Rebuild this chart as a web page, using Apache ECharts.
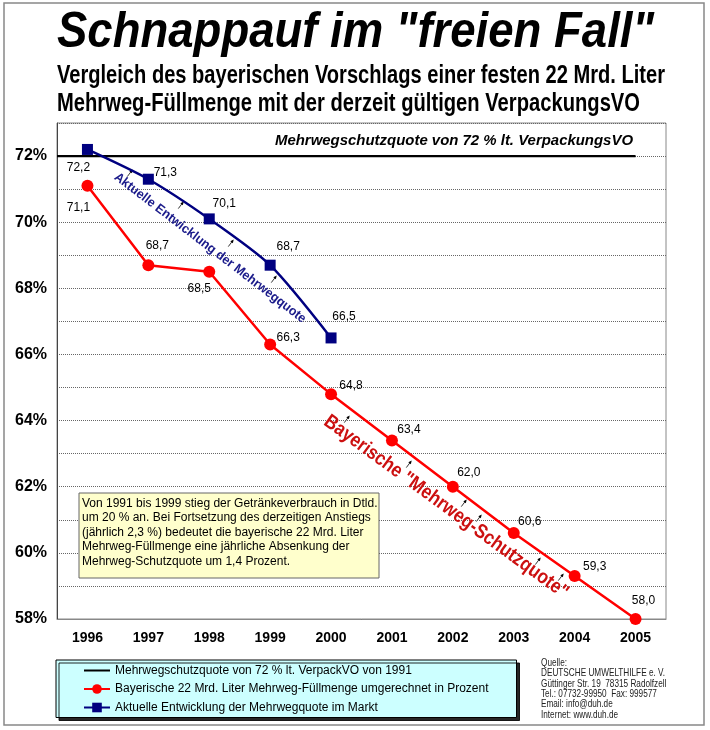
<!DOCTYPE html>
<html>
<head>
<meta charset="utf-8">
<script src="https://cdn.jsdelivr.net/npm/echarts@6/dist/echarts.min.js"></script>
<style>
html,body{margin:0;padding:0;background:#fff;}
#chart{width:710px;height:730px;}
</style>
</head>
<body>
<div id="chart"></div>
<script>
// ---------- data ----------
const years = ['1996','1997','1998','1999','2000','2001','2002','2003','2004','2005'];
const bavarianQuota = [71.1, 68.7, 68.5, 66.3, 64.8, 63.4, 62.0, 60.6, 59.3, 58.0];
const actualQuota = [72.2, 71.3, 70.1, 68.7, 66.5, null, null, null, null, null];
const legalQuota = 72;
const legalLineX = [-0.5, 9];        // from the y axis to the 2005 category
const yMin = 58, yMax = 73, yStep = 1;

const titleText = 'Schnappauf im "freien Fall"';
const subtitleLines = [
  'Vergleich des bayerischen Vorschlags einer festen 22 Mrd. Liter',
  'Mehrweg-Füllmenge mit der derzeit gültigen VerpackungsVO'
];
const legalLabel = 'Mehrwegschutzquote von 72 % lt. VerpackungsVO';
const seriesNames = [
  'Mehrwegschutzquote von 72 % lt. VerpackVO von 1991',
  'Bayerische 22 Mrd. Liter Mehrweg-Füllmenge umgerechnet in Prozent',
  'Aktuelle Entwicklung der Mehrwegquote im Markt'
];
const actualCurveLabel = 'Aktuelle Entwicklung der Mehrwegquote';
const bavarianCurveLabel = 'Bayerische "Mehrweg-Schutzquote"';
const noteLines = [
  'Von 1991 bis 1999 stieg der Getränkeverbrauch in Dtld.',
  'um 20 % an. Bei Fortsetzung des derzeitigen Anstiegs',
  '(jährlich 2,3 %) bedeutet die bayerische 22 Mrd. Liter',
  'Mehrweg-Füllmenge eine jährliche Absenkung der',
  'Mehrweg-Schutzquote um 1,4 Prozent.'
];
const sourceLines = [
  'Quelle:',
  'DEUTSCHE UMWELTHILFE e. V.',
  'Güttinger Str. 19  78315 Radolfzell',
  'Tel.: 07732-99950  Fax: 999577',
  'Email: info@duh.de',
  'Internet: www.duh.de'
];

// ---------- styles (label offsets relative to each point, pointer arrows) ----------
const redLabelOffsets = [[-9,22],[9,-19],[-10,17],[18,-7],[20,-8],[17,-11],[16,-14],[16,-11],[20,-9],[8,-18]];
const blueLabelOffsets = [[-9,18],[17,-7],[15,-15],[18,-18],[13,-21]];
const pointerArrows = [[130,173],[181,205],[231,243],[274,279],
                       [347,419],[409,464],[464,503],[479,518],[538,561],[561,577]];

const FONT = '"Liberation Sans", Arial, sans-serif';
const fmt = v => v.toFixed(1).replace('.', ',');

const measureCtx = document.createElement('canvas').getContext('2d');
function fitScale(text, font, width){
  measureCtx.font = font;
  return width / measureCtx.measureText(text).width;
}

const chart = echarts.init(document.getElementById('chart'), null, {renderer:'canvas'});

const redData = bavarianQuota.map((v,i)=>({value:v, label:{offset:redLabelOffsets[i]}}));
const blueData = actualQuota.map((v,i)=>v==null?null:({value:v, label:{offset:blueLabelOffsets[i]}}));

const labelStyle = {show:true, position:'inside', formatter:p=>fmt(p.value), color:'#000',
  fontSize:12, fontFamily:FONT, align:'center', verticalAlign:'middle'};

function textEl(text, x, y, opts){
  const o = opts || {};
  return {
    type:'text', x:x, y:y, rotation:o.rotation||0, scaleX:o.scaleX||1, z:o.z||10,
    style:{text:text, fill:o.fill||'#000', font:o.font, textAlign:o.align||'left',
      textVerticalAlign:o.valign||'middle', lineHeight:o.lineHeight}
  };
}
function arrowEl(p){
  const dx = 0.6, dy = -0.8, L = 9;
  const x0 = p[0] - dx*L/2, y0 = p[1] - dy*L/2;
  const x1 = p[0] + dx*L/2, y1 = p[1] + dy*L/2;
  const px = -dy, py = dx;
  return {type:'group', z:12, children:[
    {type:'line', shape:{x1:x0,y1:y0,x2:x1-dx*2,y2:y1-dy*2}, style:{stroke:'#000', lineWidth:0.8}},
    {type:'polygon', shape:{points:[[x1,y1],[x1-dx*3.5+px*1.6,y1-dy*3.5+py*1.6],[x1-dx*3.5-px*1.6,y1-dy*3.5-py*1.6]]},
     style:{fill:'#000'}}
  ]};
}

const titleFont = 'italic bold 50px ' + FONT;
const subFont = 'bold 25px ' + FONT;
const legalFont = 'italic bold 14px ' + FONT;
const blueTxtFont = 'bold 13px ' + FONT;
const redTxtFont = 'bold 20px ' + FONT;
const srcFont = '10.5px ' + FONT;

const graphics = [
  {type:'rect', shape:{x:4,y:3,width:700,height:722}, style:{fill:'none', stroke:'#888', lineWidth:1.5}, z:0},
  textEl(titleText, 57, 33, {font:titleFont, scaleX:fitScale(titleText,titleFont,597)}),
  textEl(subtitleLines[0], 57, 76, {font:subFont, scaleX:fitScale(subtitleLines[0],subFont,608)}),
  textEl(subtitleLines[1], 57, 104, {font:subFont, scaleX:fitScale(subtitleLines[1],subFont,583)}),
  textEl(legalLabel, 275, 141, {font:legalFont, scaleX:fitScale(legalLabel,legalFont,358)}),
  textEl(actualCurveLabel, 210, 248, {font:blueTxtFont, fill:'#1a1a8a', align:'center',
    rotation:-37.5*Math.PI/180, scaleX:fitScale(actualCurveLabel,blueTxtFont,238)}),
  textEl(bavarianCurveLabel, 446, 507, {font:redTxtFont, fill:'#cc1010', align:'center',
    rotation:-36.1*Math.PI/180, scaleX:fitScale(bavarianCurveLabel,redTxtFont,297)}),
  {type:'rect', shape:{x:79,y:493,width:300,height:85}, style:{fill:'#ffffcc', stroke:'#666', lineWidth:1}, z:5},
  textEl(noteLines.join('\n'), 82, 496, {font:'12px '+FONT, valign:'top', lineHeight:14.5, z:6}),
  textEl(sourceLines.join('\n'), 541, 658, {font:srcFont, valign:'top', lineHeight:10.3, fill:'#222',
    scaleX:fitScale(sourceLines[1], srcFont, 124)})
].concat(pointerArrows.map(arrowEl));

const option = {
  animation:false,
  backgroundColor:'#fff',
  grid:{left:57, right:44, top:123, bottom:111, show:true, borderColor:'#888', borderWidth:1, backgroundColor:'#fff'},
  xAxis:[
    {type:'category', data:years, boundaryGap:true,
     axisLine:{lineStyle:{color:'#888', width:1}}, axisTick:{show:false},
     axisLabel:{color:'#000', fontWeight:'bold', fontSize:14, fontFamily:FONT, margin:12},
     splitLine:{show:false}},
    {type:'value', min:-0.5, max:9.5, show:false}
  ],
  yAxis:{type:'value', min:yMin, max:yMax, interval:yStep,
    axisLine:{show:true, onZero:false, lineStyle:{color:'#444', width:1}}, axisTick:{show:false},
    axisLabel:{color:'#000', fontWeight:'bold', fontSize:16, fontFamily:FONT, margin:10,
      formatter:v => (v % 2 === 0 ? v + '%' : '')},
    splitLine:{show:true, lineStyle:{type:'dotted', color:'#666', width:1}}},
  legend:{orient:'vertical', left:56, top:660, itemWidth:26, itemHeight:12, itemGap:6.5,
    padding:[4.5,28,4,27], backgroundColor:'#ccffff', borderColor:'#000', borderWidth:1,
    shadowColor:'rgba(0,0,0,0.85)', shadowOffsetX:3, shadowOffsetY:3, shadowBlur:0,
    textStyle:{fontSize:12, fontFamily:FONT, color:'#000'},
    data:[{name:seriesNames[0], itemStyle:{opacity:0}}, seriesNames[1], seriesNames[2]]},
  series:[
    {name:seriesNames[0], type:'line', xAxisIndex:1, symbol:'none', z:2,
     data:legalLineX.map(x=>[x, legalQuota]), lineStyle:{color:'#000', width:2.2}, itemStyle:{color:'#000'}},
    {name:seriesNames[1], type:'line', symbol:'circle', symbolSize:12, z:3,
     data:redData, lineStyle:{color:'#ff0000', width:2.5}, itemStyle:{color:'#ff0000'}, label:labelStyle},
    {name:seriesNames[2], type:'line', symbol:'rect', symbolSize:11, z:4, smooth:0.25,
     data:blueData, lineStyle:{color:'#000080', width:2.5}, itemStyle:{color:'#000080'}, label:labelStyle}
  ],
  graphic:graphics
};
chart.setOption(option);
</script>
</body>
</html>
